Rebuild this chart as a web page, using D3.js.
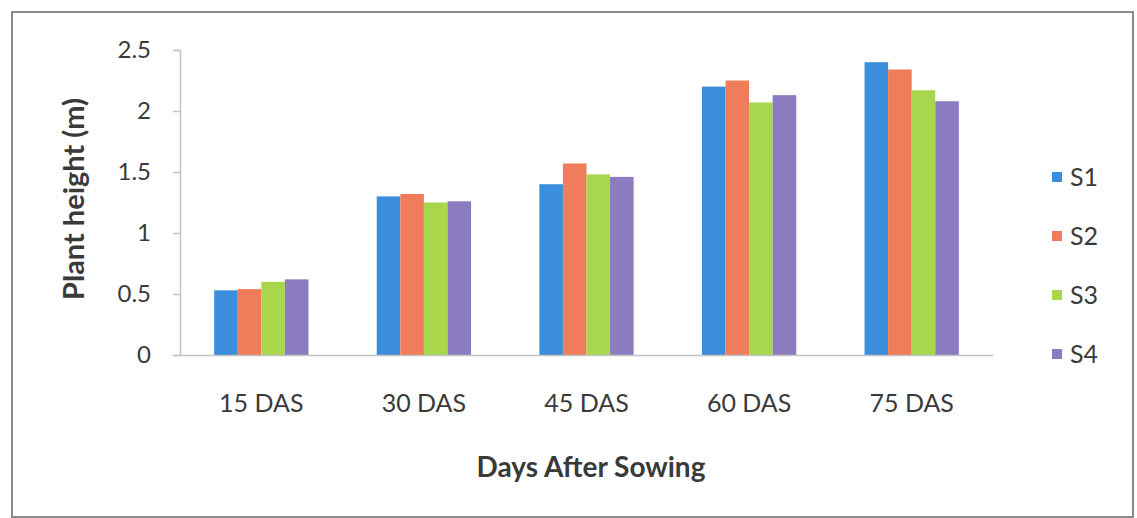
<!DOCTYPE html>
<html>
<head>
<meta charset="utf-8">
<script src="https://d3js.org/d3.v7.min.js"></script>
<style>
  body { margin: 0; background: #fff; }
  text { font-family: Lato, "Open Sans", sans-serif; fill: #3a3a3a; }
</style>
</head>
<body>
<div id="chart"></div>
<script>
// data
var days = ["15 DAS", "30 DAS", "45 DAS", "60 DAS", "75 DAS"]
var series = ["S1", "S2", "S3", "S4"]
var s1 = [0.53, 1.30, 1.40, 2.20, 2.40]
var s2 = [0.54, 1.32, 1.57, 2.25, 2.34]
var s3 = [0.60, 1.25, 1.48, 2.07, 2.17]
var s4 = [0.62, 1.26, 1.46, 2.13, 2.08]
var yTicks = [0, 0.5, 1, 1.5, 2, 2.5]
var colors = ["#3b8edb", "#f07c5c", "#a8d74e", "#8b7cc0"]

var values = [s1, s2, s3, s4]

let svg = d3.select("#chart")
    .append("svg")
    .attr("width", 1137)
    .attr("height", 518)

// outer frame
svg.append("rect")
    .attr("x", 12)
    .attr("y", 12)
    .attr("width", 1121)
    .attr("height", 505)
    .attr("fill", "none")
    .attr("stroke", "#8a8a8a")
    .attr("stroke-width", 2)

var x0 = d3.scaleBand()
    .domain(days)
    .range([180, 993])
    .paddingInner(0.42)
    .paddingOuter(0.21)

var x1 = d3.scaleBand()
    .domain(series)
    .range([0, x0.bandwidth()])

var y = d3.scaleLinear()
    .domain([0, 2.5])
    .range([355, 50])

// bars
let groups = svg.append("g")
    .selectAll("g")
    .data(days)
    .join("g")
    .attr("transform", d => "translate(" + x0(d) + ",0)")

groups.selectAll("rect")
    .data((d, i) => series.map((s, j) => ({ s: s, v: values[j][i], c: colors[j] })))
    .join("rect")
    .attr("x", d => x1(d.s))
    .attr("y", d => y(d.v))
    .attr("width", x1.bandwidth())
    .attr("height", d => y(0) - y(d.v))
    .attr("fill", d => d.c)

// y axis
let yAxis = svg.append("g")
    .attr("transform", "translate(180,0)")
    .call(d3.axisLeft(y).tickValues(yTicks).tickSize(7).tickPadding(22).tickFormat(d3.format("")))
yAxis.select(".domain").attr("stroke", "#c4c4c4").attr("stroke-width", 1.5)
yAxis.selectAll(".tick line").attr("stroke", "#c4c4c4").attr("stroke-width", 1.5)
yAxis.selectAll(".tick text")
    .style("font-size", "24px")
    .attr("fill", "#3a3a3a")

// x axis
let xAxis = svg.append("g")
    .attr("transform", "translate(0,355)")
    .call(d3.axisBottom(x0).tickSize(0).tickPadding(39))
xAxis.select(".domain").attr("stroke", "#c4c4c4").attr("stroke-width", 1.5)
xAxis.selectAll(".tick text")
    .style("font-size", "25px")
    .attr("fill", "#3a3a3a")

svg.append("text")
    .attr("x", 591)
    .attr("y", 477)
    .attr("text-anchor", "middle")
    .style("font-size", "28px")
    .style("font-weight", "bold")
    .text("Days After Sowing")

svg.append("text")
    .attr("x", -199)
    .attr("y", 84)
    .attr("text-anchor", "middle")
    .attr("transform", "rotate(-90)")
    .style("font-size", "29px")
    .style("font-weight", "bold")
    .text("Plant height (m)")

// legend
let legend = svg.append("g")
    .selectAll("g")
    .data(series)
    .join("g")
    .attr("transform", (d, i) => "translate(1052," + (177 + i * 59) + ")")
legend.append("rect")
    .attr("x", 0)
    .attr("y", -5)
    .attr("width", 10)
    .attr("height", 10)
    .attr("fill", (d, i) => colors[i])
legend.append("text")
    .attr("x", 18)
    .attr("y", 9)
    .style("font-size", "25px")
    .text(d => d)
</script>
</body>
</html>
